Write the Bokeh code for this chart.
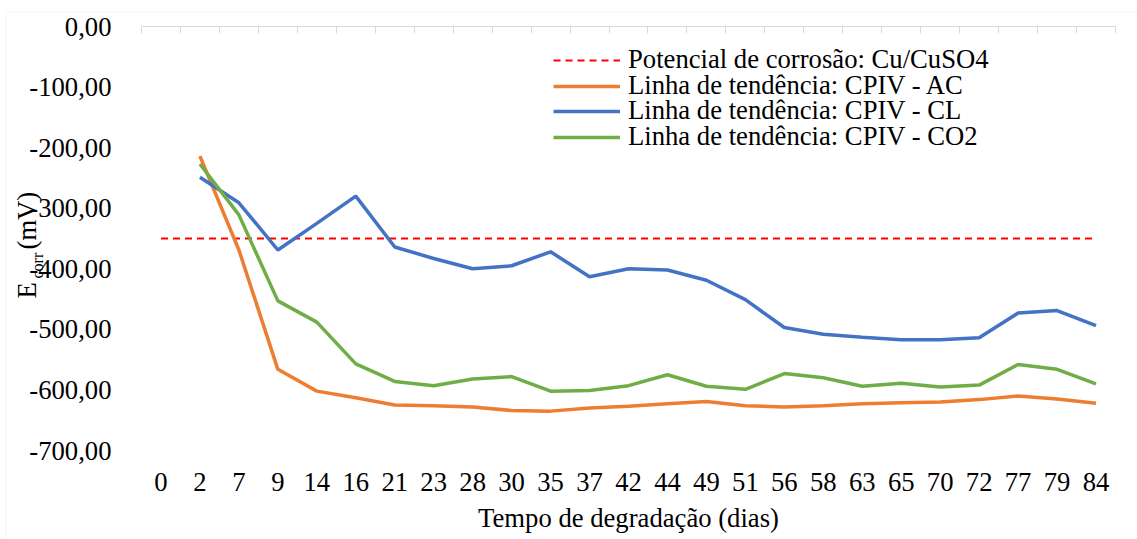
import math
from bokeh.plotting import figure
from bokeh.models import (Range1d, LinearAxis, FixedTicker, Legend, LegendItem,
                          Label, BoxAnnotation, ColumnDataSource)
from bokeh.embed import file_html
from bokeh.resources import INLINE

# ---- data ----
days = ["0", "2", "7", "9", "14", "16", "21", "23", "28", "30", "35", "37", "42",
        "44", "49", "51", "56", "58", "63", "65", "70", "72", "77", "79", "84"]
NaN = float("nan")
corrosion_ref = [-350] * 25
cpiv_ac = [NaN, -214, -369, -566, -602, -613, -625, -626, -628, -634, -635, -630, -627,
           -623, -619, -626, -628, -626, -623, -621, -620, -616, -610, -615, -622]
cpiv_cl = [NaN, -249, -291, -369, -325, -280, -364, -383, -400, -395, -372, -413, -400,
           -402, -419, -451, -497, -508, -513, -517, -517, -514, -473, -469, -494]
cpiv_co2 = [NaN, -227, -311, -453, -488, -557, -586, -593, -582, -578, -602, -601, -593,
            -575, -594, -599, -573, -580, -594, -589, -595, -592, -558, -566, -590]
y_ticks = [0, -100, -200, -300, -400, -500, -600, -700]
y_labels = ["0,00", "-100,00", "-200,00", "-300,00", "-400,00", "-500,00", "-600,00", "-700,00"]
legend_labels = ["Potencial de corrosão: Cu/CuSO4", "Linha de tendência: CPIV - AC",
                 "Linha de tendência: CPIV - CL", "Linha de tendência: CPIV - CO2"]

idx = list(range(len(days)))
src = ColumnDataSource(dict(x=idx, ref=corrosion_ref, ac=cpiv_ac, cl=cpiv_cl, co2=cpiv_co2))

W, H = 1137, 539
# plot-area edges in canvas px (layout only)
FL, FR, FT, FB = 141, 1115, 26, 450
X_LO, X_HI = -0.5, len(days) - 0.5
Y_LO, Y_HI = -700, 0
PXX = (FR - FL) / (X_HI - X_LO)
PXY = (FB - FT) / (Y_HI - Y_LO)

def xd(px):
    return X_LO + (px - FL) / PXX

def yd(py):
    return Y_HI - (py - FT) / PXY

FONT = "'Liberation Serif'"
FS = "26.67px"

# the frame covers the whole canvas; axes are placed at fixed data locations
p = figure(width=W, height=H, output_backend="svg", toolbar_location=None,
           x_range=Range1d(xd(0), xd(W)), y_range=Range1d(yd(H), yd(0)),
           x_axis_location=None, y_axis_location=None, min_border=0,
           min_border_left=0, min_border_right=0, min_border_top=0, min_border_bottom=0)
p.title.visible = False
p.grid.visible = False
p.outline_line_color = None
p.background_fill_color = "white"
p.border_fill_color = "white"

# chart area border
p.add_layout(BoxAnnotation(left=xd(5.5), right=xd(W + 10), top=yd(11.5), bottom=yd(H + 10),
                           fill_alpha=0, line_color="#d9d9d9", line_width=1))

# left axis (labels only)
ya = LinearAxis(fixed_location=X_LO, ticker=FixedTicker(ticks=y_ticks), bounds=(Y_LO, Y_HI))
ya.major_label_overrides = {t: l for t, l in zip(y_ticks, y_labels)}
ya.axis_line_color = None
ya.major_tick_line_color = None
ya.minor_tick_line_color = None
ya.major_label_standoff = 24
ya.major_label_text_font = FONT
ya.major_label_text_font_size = FS
ya.major_label_text_color = "black"
p.add_layout(ya, "left")

# bottom axis (category labels + title)
xa = LinearAxis(fixed_location=Y_LO, ticker=FixedTicker(ticks=idx), bounds=(X_LO, X_HI))
xa.major_label_overrides = {i: d for i, d in zip(idx, days)}
xa.axis_line_color = None
xa.major_tick_line_color = None
xa.minor_tick_line_color = None
xa.major_label_standoff = 16
xa.major_label_text_font = FONT
xa.major_label_text_font_size = FS
xa.major_label_text_color = "black"
xa.axis_label = "Tempo de degradação (dias)"
xa.axis_label_text_font = FONT
xa.axis_label_text_font_size = FS
xa.axis_label_text_font_style = "normal"
xa.axis_label_text_color = "black"
xa.axis_label_standoff = 9
p.add_layout(xa, "below")

# top axis line at 0 with category boundary ticks
top = LinearAxis(fixed_location=Y_HI, bounds=(X_LO, X_HI),
                 ticker=FixedTicker(ticks=[i - 0.5 for i in range(len(days) + 1)]))
top.major_label_overrides = {i - 0.5: "" for i in range(len(days) + 1)}
top.axis_line_color = "#d9d9d9"
top.axis_line_width = 1
top.major_tick_line_color = "#d9d9d9"
top.major_tick_in = 7
top.major_tick_out = 0
top.minor_tick_line_color = None
top.major_label_standoff = 0
p.add_layout(top, "above")

# series
r_ref = p.line("x", "ref", source=src, line_color="#ff0000", line_width=2, line_dash="7 5")
r_ac = p.line("x", "ac", source=src, line_color="#ed7d31", line_width=3.5)
r_cl = p.line("x", "cl", source=src, line_color="#4472c4", line_width=3.5)
r_co2 = p.line("x", "co2", source=src, line_color="#70ad47", line_width=3.5)

# legend: one entry per Legend so the row pitch matches the reference
row_centers = [60, 86, 111, 137]
for lab, r, cy in zip(legend_labels, [r_ref, r_ac, r_cl, r_co2], row_centers):
    lg = Legend(items=[LegendItem(label=lab, renderers=[r])],
                location=(553, H - (cy + 15)), border_line_color=None,
                background_fill_alpha=0, padding=0, margin=0, spacing=0,
                glyph_width=67, glyph_height=20, label_standoff=8, label_height=20,
                label_text_font=FONT, label_text_font_size=FS,
                label_text_color="black")
    p.add_layout(lg)

# y axis title: E_corr (mV)
def vlabel(text, cx, sy, size):
    p.add_layout(Label(x=xd(cx), y=yd(sy), text=text, angle=math.pi / 2,
                       text_font=FONT, text_font_size=size,
                       text_baseline="middle", text_align="left", text_color="black"))

vlabel("E", 26, 298, FS)
vlabel("corr", 37, 278, "16px")
vlabel("(mV)", 26, 249, FS)

open("out.html", "w").write(file_html(p, INLINE))
